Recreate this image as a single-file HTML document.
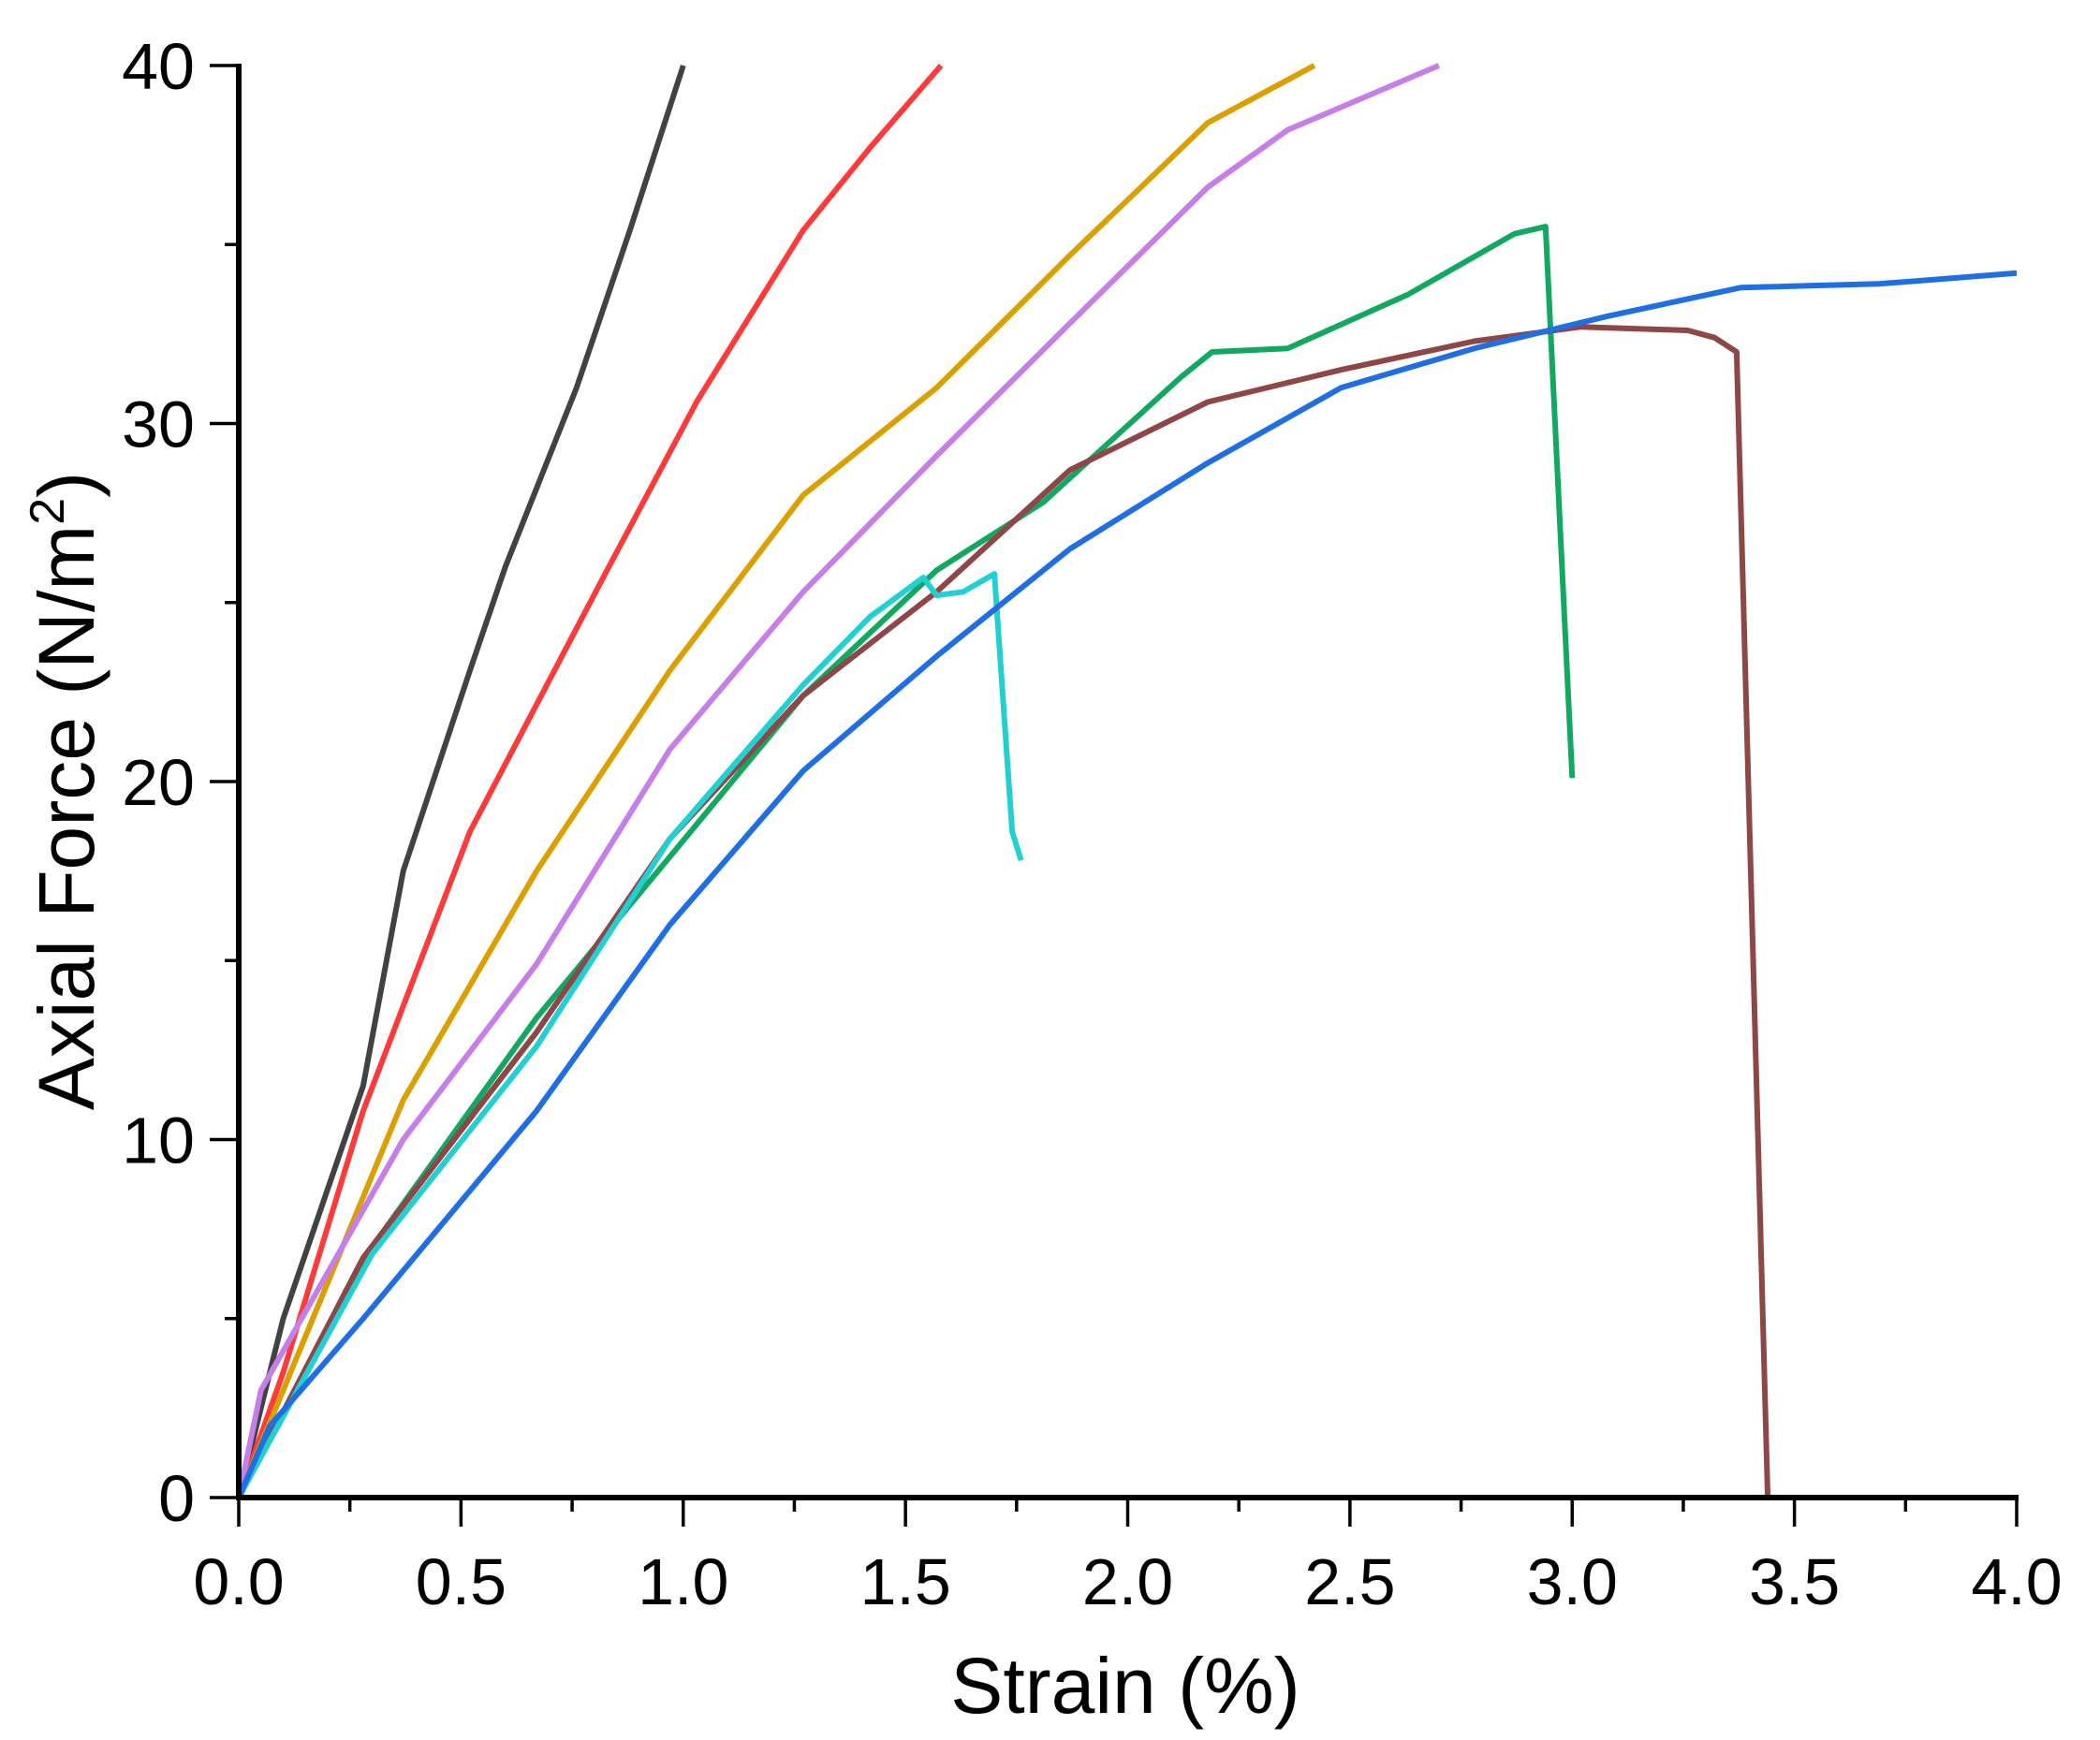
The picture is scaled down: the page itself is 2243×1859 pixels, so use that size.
<!DOCTYPE html>
<html><head><meta charset="utf-8"><style>
html,body{margin:0;padding:0;background:#fff;}
svg{display:block;font-family:"Liberation Sans",Arial,sans-serif;}
</style></head><body>
<svg id="chart" width="2243" height="1859" viewBox="0 0 2243 1859" xmlns="http://www.w3.org/2000/svg">
<g id="series"></g>
<g id="axes"></g>
<text transform="translate(100,845) rotate(-90)" text-anchor="middle" font-size="84" fill="#000">Axial Force (N/m<tspan font-size="52" dy="-32">2</tspan><tspan dy="32">)</tspan></text>
<text x="1202" y="1830" text-anchor="middle" font-size="84" fill="#000">Strain (%)</text>
</svg>
<script>
const xTicks=[0,0.5,1.0,1.5,2.0,2.5,3.0,3.5,4.0];
const xTickLabels=["0.0","0.5","1.0","1.5","2.0","2.5","3.0","3.5","4.0"];
const yTicks=[0,10,20,30,40];
const yTickLabels=["0","10","20","30","40"];
const seriesNames=["black","red","orange","purple","green","brown","cyan","blue"];
const seriesColors=["#424242","#ff3a3a","#dba000","#c67ee8","#12a862","#8e4646","#22cfd2","#1f6fe3"];
const blackX=[0,0.05,0.1,0.28,0.37,0.52,0.6,0.76,0.88,1.0];
const blackY=[0,2.5,5,11.5,17.5,23.1,26,31,35.4,40];
const redX=[0,0.1,0.28,0.52,0.82,1.03,1.27,1.42,1.58];
const redY=[0,3.5,10.8,18.6,25.7,30.6,35.4,37.7,40];
const orangeX=[0,0.1,0.37,0.67,0.97,1.27,1.57,1.87,2.03,2.18,2.42];
const orangeY=[0,3,11.1,17.5,23.1,28,31,34.7,36.6,38.4,40];
const purpleX=[0,0.05,0.37,0.67,0.97,1.27,1.57,1.87,2.18,2.36,2.7];
const purpleY=[0,3,10,14.9,20.9,25.3,29.1,32.8,36.6,38.2,40];
const greenX=[0,0.3,0.67,0.97,1.27,1.57,1.81,2.12,2.19,2.36,2.63,2.87,2.94,3.0];
const greenY=[0,7,13.4,17.9,22.4,25.9,27.8,31.3,32,32.1,33.6,35.3,35.5,20.1];
const brownX=[0,0.28,0.67,0.97,1.27,1.57,1.87,2.18,2.48,2.78,3.02,3.26,3.32,3.37,3.44];
const brownY=[0,6.7,13,18.4,22.4,25.3,28.7,30.6,31.5,32.3,32.7,32.6,32.4,32,0];
const cyanX=[0,0.3,0.67,0.97,1.27,1.42,1.54,1.57,1.63,1.7,1.74,1.76];
const cyanY=[0,6.8,12.6,18.4,22.7,24.6,25.7,25.2,25.3,25.8,18.6,17.8];
const blueX=[0,0.07,0.28,0.67,0.97,1.27,1.57,1.87,2.18,2.48,2.78,3.08,3.38,3.69,4.0];
const blueY=[0,2,5,10.8,16,20.3,23.5,26.5,28.9,31,32.1,33,33.8,33.9,34.2];
const allX=[blackX,redX,orangeX,purpleX,greenX,brownX,cyanX,blueX];
const allY=[blackY,redY,orangeY,purpleY,greenY,brownY,cyanY,blueY];

const X0=255,X1=2154,Y0=1600,Y1=70;
function sx(v){return X0+(v-0)/(4-0)*(X1-X0);}
function sy(v){return Y0-(v-0)/(40-0)*(Y0-Y1);}
const NS="http://www.w3.org/2000/svg";
const sg=document.getElementById('series');
for(let i=0;i<allX.length;i++){
  const p=document.createElementNS(NS,'polyline');
  p.setAttribute('points',allX[i].map((x,j)=>sx(x).toFixed(1)+','+sy(allY[i][j]).toFixed(1)).join(' '));
  p.setAttribute('fill','none');p.setAttribute('stroke',seriesColors[i]);
  p.setAttribute('stroke-width','6');p.setAttribute('stroke-linejoin','round');
  
  
  sg.appendChild(p);
}
const ag=document.getElementById('axes');
function el(tag,attrs){const e=document.createElementNS(NS,tag);for(const k in attrs)e.setAttribute(k,attrs[k]);ag.appendChild(e);return e;}
let a=el('line',{x1:X0,y1:Y1-2,x2:X0,y2:Y0+3,stroke:'#000','stroke-width':6});


a=el('line',{x1:X0-3,y1:Y0,x2:X1+2,y2:Y0,stroke:'#000','stroke-width':6});


for(let v=0;v<=4.001;v+=0.25){
  const maj=Math.abs(v*2-Math.round(v*2))<1e-6;
  const t=el('line',{x1:sx(v),y1:Y0,x2:sx(v),y2:Y0+(maj?31:15),stroke:'#000','stroke-width':3.5});
  
  
}
for(let v=0;v<=40;v+=5){
  const maj=v%10===0;
  const t=el('line',{x1:X0,y1:sy(v),x2:X0-(maj?31:15),y2:sy(v),stroke:'#000','stroke-width':3.5});
  
  
}
xTicks.forEach((v,i)=>{
  const t=el('text',{x:sx(v),y:1714,'text-anchor':'middle','font-size':70,fill:'#000'});
  t.textContent=xTickLabels[i];
  
  
});
yTicks.forEach((v,i)=>{
  const t=el('text',{x:208,y:sy(v)+25,'text-anchor':'end','font-size':70,fill:'#000'});
  t.textContent=yTickLabels[i];
  
  
});
</script>
</body></html>
